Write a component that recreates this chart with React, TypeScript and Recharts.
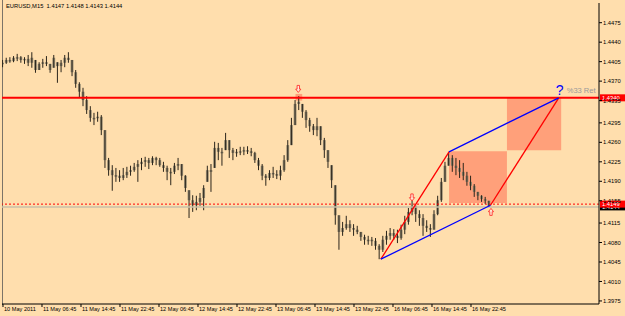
import React from "react";
import { ComposedChart, Bar, XAxis, YAxis, ReferenceLine, ReferenceArea, ReferenceDot } from "recharts";

const BG = "#ffdead";
const FONT = "'Liberation Sans', Arial, sans-serif";

// one point per 45 minutes (3 x M15 bars), starting 10 May 22:45
const STEP = 3;

const highs = [
  1.4408, 1.4412, 1.4413, 1.4415, 1.4419, 1.4415, 1.4413, 1.4417, 1.4422, 1.4408,
  1.4404, 1.441, 1.4415, 1.4401, 1.4417, 1.4404, 1.4408, 1.4417, 1.4422, 1.4408,
  1.439, 1.4368, 1.4358, 1.4343, 1.4325, 1.4313, 1.4315, 1.4309, 1.4282, 1.4232,
  1.4219, 1.4214, 1.421, 1.4214, 1.4216, 1.4218, 1.4223, 1.4228, 1.4232, 1.4234,
  1.4232, 1.4235, 1.4234, 1.4232, 1.4225, 1.4218, 1.4214, 1.4223, 1.4232, 1.4221,
  1.4201, 1.4174, 1.4165, 1.4164, 1.4169, 1.4183, 1.4218, 1.4221, 1.4261, 1.4259,
  1.425, 1.4277, 1.4264, 1.425, 1.4248, 1.4252, 1.4252, 1.4253, 1.425, 1.4243,
  1.4232, 1.4221, 1.4203, 1.421, 1.4216, 1.421, 1.4218, 1.4237, 1.4264, 1.4304,
  1.4336, 1.4343, 1.4329, 1.4318, 1.4304, 1.4293, 1.4304, 1.4289, 1.4268, 1.4246,
  1.4219, 1.4183, 1.4129, 1.4117, 1.4128, 1.412, 1.4113, 1.411, 1.4099, 1.4094,
  1.4092, 1.409, 1.4088, 1.4077, 1.4092, 1.4101, 1.4106, 1.4104, 1.4103, 1.4112,
  1.4128, 1.4142, 1.4156, 1.4146, 1.4138, 1.4131, 1.412, 1.4113, 1.4138, 1.4164,
  1.4196, 1.4225, 1.4243, 1.4237, 1.4232, 1.4228, 1.4223, 1.4207, 1.42, 1.4185,
  1.4171, 1.4165, 1.4162, 1.4155,
];

const lows = [
  1.4395, 1.4401, 1.4403, 1.4404, 1.4406, 1.4403, 1.4401, 1.4397, 1.4394, 1.4385,
  1.439, 1.4394, 1.4397, 1.4385, 1.4394, 1.4367, 1.4386, 1.4395, 1.4403, 1.4379,
  1.4358, 1.434, 1.4325, 1.4311, 1.4297, 1.4291, 1.4297, 1.4273, 1.4214, 1.42,
  1.4173, 1.4189, 1.4189, 1.4192, 1.4196, 1.42, 1.4207, 1.4189, 1.421, 1.4216,
  1.4212, 1.4219, 1.4219, 1.4216, 1.4207, 1.4192, 1.4183, 1.4203, 1.421, 1.4192,
  1.4171, 1.4124, 1.4135, 1.4138, 1.4146, 1.4138, 1.4189, 1.4171, 1.4214, 1.4228,
  1.4218, 1.4246, 1.4232, 1.4228, 1.4234, 1.4237, 1.4237, 1.4239, 1.4235, 1.4223,
  1.421, 1.4192, 1.4182, 1.4192, 1.4196, 1.4194, 1.4192, 1.4207, 1.4225, 1.4255,
  1.4291, 1.4318, 1.4304, 1.4286, 1.4279, 1.4273, 1.4271, 1.4255, 1.4232, 1.4214,
  1.4178, 1.4112, 1.4067, 1.4092, 1.4103, 1.4099, 1.4092, 1.4095, 1.4083, 1.4076,
  1.4076, 1.4074, 1.4067, 1.405, 1.4063, 1.4076, 1.4085, 1.4085, 1.4079, 1.4085,
  1.4095, 1.4112, 1.4129, 1.4117, 1.411, 1.4092, 1.4099, 1.409, 1.4103, 1.4129,
  1.4153, 1.4189, 1.4218, 1.4207, 1.4201, 1.4196, 1.4192, 1.4182, 1.4174, 1.4162,
  1.4156, 1.4153, 1.4149, 1.4144,
];

const closes = [
  1.4403, 1.4408, 1.4406, 1.4412, 1.4413, 1.4408, 1.441, 1.4403, 1.4412, 1.439,
  1.4401, 1.4404, 1.4401, 1.439, 1.4412, 1.4397, 1.4403, 1.4412, 1.4408, 1.4386,
  1.4365, 1.4351, 1.4336, 1.4318, 1.4304, 1.4304, 1.4306, 1.4282, 1.4228, 1.421,
  1.4201, 1.42, 1.4196, 1.4201, 1.4207, 1.421, 1.4216, 1.4221, 1.4225, 1.4228,
  1.4223, 1.4232, 1.4228, 1.4219, 1.4214, 1.4207, 1.4207, 1.4218, 1.4221, 1.42,
  1.4178, 1.4156, 1.4147, 1.4153, 1.416, 1.4178, 1.421, 1.4207, 1.425, 1.4243,
  1.4243, 1.4264, 1.4246, 1.4241, 1.4243, 1.4244, 1.4246, 1.4244, 1.4241, 1.4228,
  1.4218, 1.42, 1.4196, 1.4205, 1.4203, 1.42, 1.421, 1.4228, 1.4255, 1.4291,
  1.4329, 1.4333, 1.4315, 1.43, 1.4289, 1.4282, 1.4289, 1.4264, 1.4246, 1.4225,
  1.4192, 1.4129, 1.4099, 1.4106, 1.4113, 1.4106, 1.4103, 1.4099, 1.409, 1.4085,
  1.4085, 1.4083, 1.4074, 1.4067, 1.4085, 1.4092, 1.4097, 1.4092, 1.4088, 1.4103,
  1.4117, 1.4135, 1.4146, 1.4131, 1.4124, 1.411, 1.4106, 1.4103, 1.4131, 1.4156,
  1.4189, 1.4218, 1.4232, 1.4218, 1.4214, 1.4207, 1.42, 1.4189, 1.4182, 1.4171,
  1.4164, 1.4158, 1.4155, 1.4144,
];

const timeLabels = [
  "10 May 2011", "11 May 06:45", "11 May 14:45", "11 May 22:45", "12 May 06:45",
  "12 May 14:45", "12 May 22:45", "13 May 06:45", "13 May 14:45", "13 May 22:45",
  "16 May 06:45", "16 May 14:45", "16 May 22:45",
];
const BARS_PER_LABEL = 32; // 8 hours of M15
const timeTicks = timeLabels.map((_, i) => i * BARS_PER_LABEL);

const priceTicks = [
  1.3975, 1.401, 1.4045, 1.408, 1.4115, 1.4155, 1.419, 1.4225,
  1.426, 1.4295, 1.4335, 1.437, 1.4405, 1.444, 1.4475,
];

// A, B, C, D of the pattern (bar index, price)
const patternBars = [310, 366, 400, 456];
const patternPrices = [1.405, 1.4243, 1.4147, 1.434];

// retracement boxes
const zoneBars = [366, 413.5, 458];
const zonePrices = [1.4151, 1.4244, 1.4246, 1.434];

const resistance = 1.434;
const dottedLevel = 1.4149;
const bidLevel = 1.4144;

const peakMark = { x1: 240, x2: 245.5, y1: 1.4335, y2: 1.4347 };
const downArrows = [
  { bar: 242.3, price: 1.4356 },
  { bar: 335.6, price: 1.4161 },
];
const upArrows = [{ bar: 400.4, price: 1.4135 }];

const data = highs.map((h, i) => ({
  bar: i * STEP,
  range: [lows[i], h],
  open: i > 0 ? closes[i - 1] : closes[0],
  close: closes[i],
}));

function Candle(props: any) {
  const { x, y, width, height, payload } = props;
  if (x == null || y == null || !payload) return null;
  const top = Math.min(y, y + height);
  const bot = Math.max(y, y + height);
  const [lo, hi] = payload.range;
  const span = hi - lo || 1e-6;
  const py = (v: number) => top + ((hi - Math.min(hi, Math.max(lo, v))) / span) * (bot - top);
  const cx = x + width / 2;
  const o = py(payload.open);
  const c = py(payload.close);
  return (
    <g>
      <rect
        x={x}
        y={Math.min(o, c)}
        width={width}
        height={Math.max(1.5, Math.abs(c - o))}
        fill="#958a72"
      />
      <line x1={cx} x2={cx} y1={top} y2={bot} stroke="#2b251b" strokeWidth={1} />
    </g>
  );
}

const priceTag = (text: string, fill: string) => (props: any) => {
  const { x, y, width } = props.viewBox;
  return (
    <g>
      <rect x={x + width + 1} y={y - 3.5} width={26} height={7} fill={fill} />
      <text x={x + width + 3} y={y + 2.2} fill="#fff" fontSize={5.8} fontFamily={FONT}>
        {text}
      </text>
    </g>
  );
};

const arrowShape = (down: boolean) => (p: any) => {
  const { cx, cy } = p;
  const s = down ? 1 : -1;
  const d = `M${cx - 1.2} ${cy - 3.5 * s} L${cx + 1.2} ${cy - 3.5 * s} L${cx + 1.2} ${cy + 0.2 * s} L${cx + 2.6} ${cy + 0.2 * s} L${cx} ${cy + 3.5 * s} L${cx - 2.6} ${cy + 0.2 * s} L${cx - 1.2} ${cy + 0.2 * s} Z`;
  return <path d={d} fill="#ffe9d6" stroke="#ff2020" strokeWidth={0.8} />;
};

const retLabel = (p: any) => (
  <g fontFamily={FONT}>
    <text x={p.cx - 3} y={p.cy - 3} fill="#0000ff" fontSize={14}>?</text>
    <text x={p.cx + 8} y={p.cy - 4.5} fill="#9a9a9a" fontSize={7.5}>%33 Ret</text>
  </g>
);

export default function App() {
  return (
    <div style={{ position: "absolute", left: 0, top: 0, width: 625, height: 316, background: BG, overflow: "hidden" }}>
      <div style={{ position: "absolute", left: 2, top: 0, width: 1, height: 305, background: "#7c7468" }} />
      <div
        style={{
          position: "absolute", left: 6, top: 3, fontSize: 5.8, fontFamily: FONT,
          color: "#000", whiteSpace: "pre", lineHeight: "7px", zIndex: 2,
        }}
      >
        {"EURUSD,M15  1.4147 1.4148 1.4143 1.4144"}
      </div>
      <ComposedChart
        width={625}
        height={316}
        data={data}
        margin={{ top: 3, right: 0, bottom: 0, left: 2 }}
        style={{ fontFamily: FONT }}
      >
        <XAxis
          dataKey="bar"
          type="number"
          domain={[-0.82, 489.03]}
          allowDataOverflow
          ticks={timeTicks}
          interval={0}
          tickFormatter={(v: number) => timeLabels[Math.round(v / BARS_PER_LABEL)] ?? ""}
          height={12}
          tickSize={3}
          tickMargin={0}
          axisLine={{ stroke: "#000" }}
          tickLine={{ stroke: "#000" }}
          tick={{ fontSize: 5.6, fill: "#000", textAnchor: "start", dx: 1 } as any}
        />
        <YAxis
          orientation="right"
          type="number"
          domain={[1.39695, 1.45104]}
          allowDataOverflow
          ticks={priceTicks}
          interval={0}
          width={26}
          tickSize={3}
          tickMargin={1}
          axisLine={{ stroke: "#000" }}
          tickLine={{ stroke: "#000" }}
          tick={{ fontSize: 5.8, fill: "#000" }}
          tickFormatter={(v: number) => v.toFixed(4)}
        />

        <ReferenceArea
          x1={zoneBars[0]} x2={zoneBars[1]} y1={zonePrices[0]} y2={zonePrices[1]}
          fill="#ffa07a" fillOpacity={1} stroke="none" ifOverflow="visible"
        />
        <ReferenceArea
          x1={zoneBars[1]} x2={zoneBars[2]} y1={zonePrices[2]} y2={zonePrices[3]}
          fill="#ffa07a" fillOpacity={1} stroke="none" ifOverflow="visible"
        />
        <ReferenceArea
          x1={peakMark.x1} x2={peakMark.x2} y1={peakMark.y1} y2={peakMark.y2}
          fill="#ffa07a" fillOpacity={1} stroke="none" ifOverflow="visible"
        />

        <ReferenceLine y={bidLevel} stroke="#c9bfa8" strokeWidth={1.5} label={priceTag("1.4144", "#000")} />
        <ReferenceLine y={dottedLevel} stroke="#ff0000" strokeWidth={1} strokeDasharray="2 2" label={priceTag("1.4149", "#ff0000")} />

        <Bar dataKey="range" barSize={2.8} isAnimationActive={false} shape={Candle} />

        <ReferenceLine y={resistance} stroke="#ff0000" strokeWidth={2} label={priceTag("1.4340", "#ff0000")} />

        <ReferenceLine
          segment={[{ x: patternBars[0], y: patternPrices[0] }, { x: patternBars[1], y: patternPrices[1] }]}
          stroke="#ff0000" strokeWidth={1.3} ifOverflow="visible"
        />
        <ReferenceLine
          segment={[{ x: patternBars[2], y: patternPrices[2] }, { x: patternBars[3], y: patternPrices[3] }]}
          stroke="#ff0000" strokeWidth={1.3} ifOverflow="visible"
        />
        <ReferenceLine
          segment={[{ x: patternBars[0], y: patternPrices[0] }, { x: patternBars[2], y: patternPrices[2] }]}
          stroke="#0000ff" strokeWidth={1.3} ifOverflow="visible"
        />
        <ReferenceLine
          segment={[{ x: patternBars[1], y: patternPrices[1] }, { x: patternBars[3], y: patternPrices[3] }]}
          stroke="#0000ff" strokeWidth={1.3} ifOverflow="visible"
        />

        {downArrows.map((a, i) => (
          <ReferenceDot key={"d" + i} x={a.bar} y={a.price} r={3} shape={arrowShape(true)} ifOverflow="visible" />
        ))}
        {upArrows.map((a, i) => (
          <ReferenceDot key={"u" + i} x={a.bar} y={a.price} r={3} shape={arrowShape(false)} ifOverflow="visible" />
        ))}
        <ReferenceDot x={patternBars[3]} y={patternPrices[3]} r={1} shape={retLabel} ifOverflow="visible" />
      </ComposedChart>
    </div>
  );
}
